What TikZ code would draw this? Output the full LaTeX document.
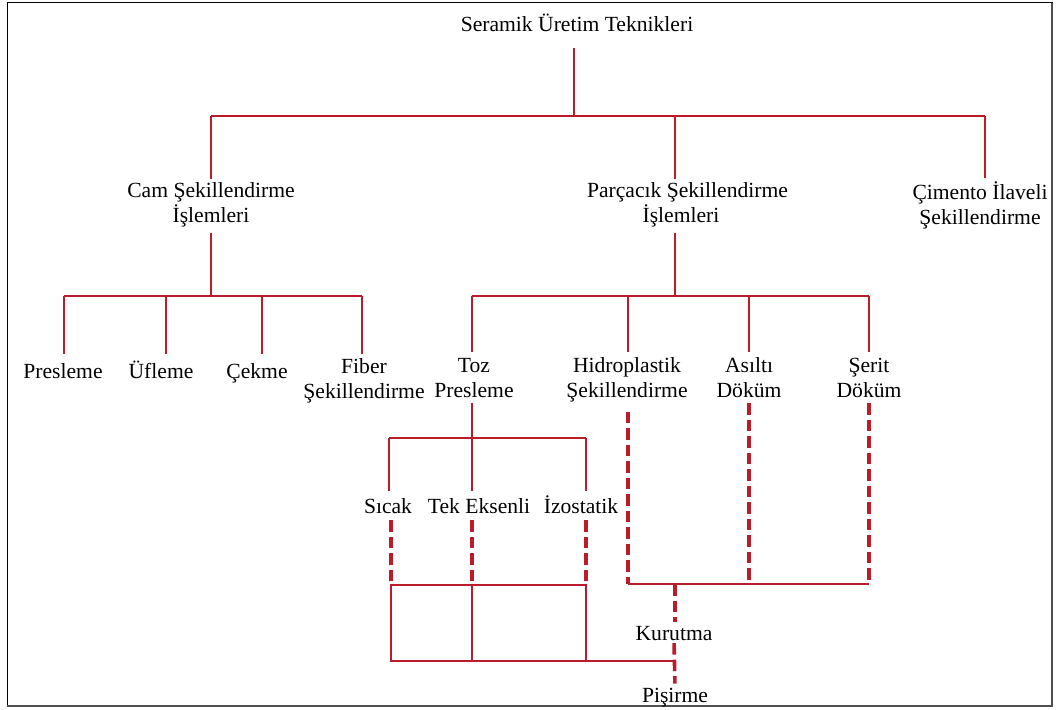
\documentclass[tikz,border=0pt]{standalone}
\usepackage{fontspec}
\setmainfont{Liberation Serif}
\definecolor{linered}{RGB}{188,28,42}
\definecolor{framegray}{RGB}{80,80,80}
\begin{document}
\begin{tikzpicture}[x=1pt,y=-1pt,
  lbl/.style={inner sep=0pt,outer sep=0pt,anchor=base,align=center,
    font=\fontsize{21.6}{24.5}\selectfont},
  con/.style={draw=linered,line width=2.8pt},
  dcon/.style={draw=linered,line width=3.6pt,dash pattern=on 11.5pt off 5pt},
]
\useasboundingbox (0,0) rectangle (1059,709);
\fill[white] (0,0) rectangle (1059,709);
% frame
\draw[black,line width=1pt] (7,3) rectangle (1052,706);
\draw[framegray,line width=2.5pt] (1052,3) -- (1052,706) -- (7,706);

% labels (base = baseline of the last line)
\node[lbl] (root) at (577,32) {Seramik Üretim Teknikleri};
\node[lbl] (cam) at (211,222) {Cam Şekillendirme\\İşlemleri};
\node[lbl] (parc) at (681,222) {\hspace*{13pt}Parçacık Şekillendirme\\İşlemleri};
\node[lbl] (cim) at (980,224) {Çimento İlaveli\\Şekillendirme};

\node[lbl] (pres) at (63,378) {Presleme};
\node[lbl] (ufl) at (161,378) {Üfleme};
\node[lbl] (cek) at (257,378) {Çekme};
\node[lbl] (fib) at (364,398) {Fiber\\Şekillendirme};

\node[lbl] (toz) at (474,397) {Toz\\Presleme};
\node[lbl] (hid) at (627,397) {Hidroplastik\\Şekillendirme};
\node[lbl] (asi) at (749,397) {Asıltı\\Döküm};
\node[lbl] (ser) at (869,397) {Şerit\\Döküm};

\node[lbl] (sic) at (388,513) {Sıcak};
\node[lbl] (tek) at (479,513) {Tek Eksenli};
\node[lbl] (izo) at (581,513) {İzostatik};

\node[lbl] (kur) at (674,640) {Kurutma};
\node[lbl] (pis) at (675,702) {Pişirme};

% junction coordinates
\coordinate (t1) at (574,116);
\coordinate (c1) at (211,116);
\coordinate (p1) at (675,116);
\coordinate (z1) at (985,116);

\coordinate (c2) at (211,296);
\coordinate (cL) at (64,296);
\coordinate (cU) at (166,296);
\coordinate (cC) at (262,296);
\coordinate (cF) at (362,296);

\coordinate (p2) at (675,296);
\coordinate (pT) at (472,296);
\coordinate (pH) at (628,296);
\coordinate (pA) at (749,296);
\coordinate (pS) at (869,296);

\coordinate (t2) at (472,438);
\coordinate (tS) at (389,438);
\coordinate (tT) at (472,438);
\coordinate (tI) at (586,438);

\coordinate (bS) at (391,585);
\coordinate (bT) at (472,585);
\coordinate (bI) at (586,585);
\coordinate (bS2) at (391,661);
\coordinate (bT2) at (472,661);
\coordinate (bI2) at (586,661);
\coordinate (bE) at (674,661);

\coordinate (dH) at (628,584);
\coordinate (dA) at (749,584);
\coordinate (dS) at (869,584);
\coordinate (dK) at (675,584);

% level 1
\draw[con,shorten <=16pt] (t1 |- root.base) -- (t1);
\draw[con] (c1) -- (z1);
\draw[con,shorten >=4pt] (c1) -- (c1 |- cam.north);
\draw[con,shorten >=4pt] (p1) -- (p1 |- parc.north);
\draw[con,shorten >=4pt] (z1) -- (z1 |- cim.north);

% Cam children
\draw[con,shorten <=6pt] (c2 |- cam.south) -- (c2);
\draw[con] (cL) -- (cF);
\draw[con] (cL) -- (cL |- 0,354);
\draw[con] (cU) -- (cU |- 0,354);
\draw[con] (cC) -- (cC |- 0,354);
\draw[con] (cF) -- (cF |- 0,354);

% Parcacik children
\draw[con,shorten <=6pt] (p2 |- parc.south) -- (p2);
\draw[con] (pT) -- (pS);
\draw[con] (pT) -- (pT |- 0,352);
\draw[con] (pH) -- (pH |- 0,352);
\draw[con] (pA) -- (pA |- 0,352);
\draw[con] (pS) -- (pS |- 0,352);

% Toz presleme children
\draw[con,shorten <=6pt] (t2 |- toz.south) -- (t2);
\draw[con] (tS) -- (tI);
\draw[con] (tS) -- (tS |- 0,491);
\draw[con] (tT) -- (tT |- 0,491);
\draw[con] (tI) -- (tI |- 0,491);

% dashed from pressing types
\draw[dcon,shorten <=7pt] (bS |- sic.south) -- (bS);
\draw[dcon,shorten <=7pt] (bT |- tek.south) -- (bT);
\draw[dcon,shorten <=7pt] (bI |- izo.south) -- (bI);

% box
\draw[con] (bS) rectangle (bI2);
\draw[con] (bT) -- (bT2);
\draw[con] (bI2) -- (bE);

% dashed from forming methods
\draw[dcon,shorten <=10pt] (dH |- hid.south) -- (dH);
\draw[dcon,shorten <=6pt] (dA |- asi.south) -- (dA);
\draw[dcon,shorten <=6pt] (dS |- ser.south) -- (dS);
\draw[con] (dH) -- (dS);

% drying and firing
\draw[dcon,shorten >=4pt] (dK) -- (dK |- kur.north);
\draw[dcon,shorten <=3pt,shorten >=4pt] (kur.south) -- (pis.north);
\end{tikzpicture}
\end{document}
